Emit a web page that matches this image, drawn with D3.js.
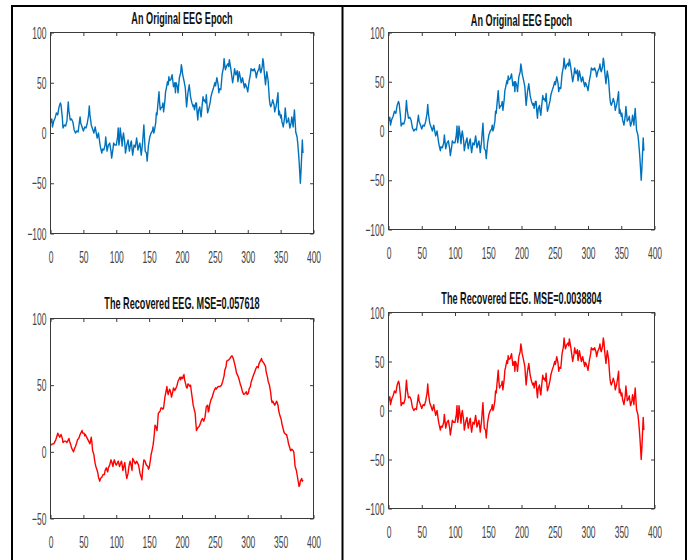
<!DOCTYPE html>
<html>
<head>
<meta charset="utf-8">
<script src="https://cdn.jsdelivr.net/npm/d3@7"></script>
<style>
  html, body { margin: 0; padding: 0; background: #fff; }
  svg { display: block; }
  text { font-family: "Liberation Sans", Arial, sans-serif; }
</style>
</head>
<body>
<svg id="fig" width="691" height="560"></svg>
<script>
// ---- data: [sample index, amplitude] ----
const originalEEG = [
  [1,10],[2,14],[3,6],[5,12],[7,15],[9,20],[11,18],[13,26],[15,30],[16,28],[18,15],[19,5],
  [21,8],[23,7],[25,12],[27,31],[28,22],[30,13],[32,14],[34,11],[36,3],[38,0],[40,2],[42,1],
  [45,16],[46,10],[48,6],[50,2],[52,6],[54,5],[56,10],[58,18],[59,27],[60,18],[62,8],[64,4],
  [66,0],[68,6],[69,2],[71,-5],[73,0],[75,-10],[76,-14],[78,-20],[79,-16],[81,-17],[83,-12],
  [84,-4],[86,-18],[88,-12],[90,-10],[92,-18],[93,-25],[95,-16],[96,-10],[98,-12],[100,-12],
  [102,-4],[103,5],[104,-12],[105,-8],[106,5],[108,-6],[109,-13],[110,-4],[111,0],[113,-10],
  [114,-20],[116,-12],[118,-7],[119,-13],[120,-18],[122,-10],[123,-8],[124,-16],[125,-22],
  [127,-12],[129,-14],[131,-5],[132,-10],[133,-17],[135,-12],[136,-10],[137,-16],[138,-22],
  [140,-10],[142,8],[143,-5],[144,-18],[146,-20],[147,-28],[149,-12],[151,-4],[152,-2],[153,0],
  [155,2],[156,6],[157,0],[158,2],[160,10],[161,20],[162,18],[163,26],[165,41],[166,30],[167,23],
  [168,25],[170,26],[171,30],[172,21],[174,32],[175,41],[176,44],[178,51],[179,48],[180,56],
  [181,52],[183,53],[185,58],[186,52],[187,46],[189,50],[190,40],[191,50],[193,46],[194,40],
  [195,48],[196,55],[198,60],[199,68],[200,64],[201,58],[203,52],[205,45],[206,35],[207,26],
  [209,40],[211,48],[212,42],[213,36],[215,30],[217,26],[218,28],[219,23],[221,30],[222,30],
  [223,20],[224,13],[225,22],[227,26],[228,20],[229,16],[231,30],[232,36],[233,32],[234,33],
  [236,30],[237,38],[238,28],[239,20],[241,25],[243,31],[244,36],[246,41],[248,45],[250,50],
  [251,47],[253,55],[255,48],[256,40],[257,44],[259,43],[260,50],[261,58],[263,65],[264,74],
  [265,68],[266,63],[268,67],[270,69],[271,66],[272,73],[274,65],[275,60],[276,55],[277,50],
  [279,58],[280,64],[281,60],[282,58],[284,62],[285,51],[286,55],[287,61],[289,54],[290,50],
  [291,52],[292,55],[294,48],[295,45],[296,49],[297,48],[299,44],[300,41],[301,46],[302,51],
  [304,58],[305,64],[307,62],[308,63],[309,62],[310,64],[312,60],[313,55],[314,58],[315,61],
  [317,64],[318,68],[319,62],[320,60],[322,66],[323,74],[324,70],[325,61],[327,48],[328,55],
  [329,61],[331,52],[332,42],[333,33],[334,28],[335,26],[337,30],[338,33],[340,28],[341,21],
  [342,24],[343,26],[345,35],[346,40],[347,18],[348,22],[350,15],[351,18],[352,11],[353,9],
  [354,6],[356,15],[357,25],[358,18],[359,10],[361,12],[362,15],[363,10],[364,5],[366,10],
  [367,16],[368,12],[369,6],[370,15],[371,23],[372,12],[373,1],[375,-4],[376,-10],[377,-18],
  [378,-27],[379,-38],[380,-50],[381,-38],[382,-23],[383,-7],[384,-20]
];

// Recovery at MSE=0.057618 (smoothed reconstruction)
const recoveredCoarse = [
  [1,5],[3,6],[5,6],[8,9],[10,12],[11,14],[13,12],[14,11],[16,13],[18,10],[19,7],[21,8],
  [23,8],[25,7],[27,9],[28,10],[29,8],[31,5],[32,3],[34,1],[35,0],[37,3],[38,4],[40,7],
  [41,9],[43,10],[45,13],[47,15],[48,16],[49,14],[51,14],[52,12],[53,13],[55,11],[57,9],
  [58,8],[60,6],[62,11],[63,7],[64,1],[66,-2],[67,-6],[68,-9],[69,-11],[71,-14],[72,-16],
  [73,-19],[75,-22],[76,-20],[78,-19],[80,-17],[82,-17],[83,-14],[85,-12],[86,-14],[87,-15],
  [88,-12],[90,-10],[91,-8],[92,-6],[94,-9],[95,-11],[96,-8],[97,-6],[99,-9],[100,-10],
  [102,-8],[103,-7],[104,-9],[105,-11],[107,-8],[108,-7],[109,-10],[110,-14],[112,-10],
  [113,-8],[114,-13],[115,-17],[116,-20],[118,-16],[119,-12],[120,-9],[121,-7],[123,-11],
  [124,-14],[125,-5],[127,-7],[128,-8],[129,-9],[130,-8],[131,-7],[133,-9],[134,-10],
  [135,-13],[136,-16],[138,-19],[139,-21],[140,-14],[142,-6],[144,-7],[145,-9],[146,-10],
  [148,-11],[149,-13],[150,-12],[152,-6],[153,-2],[154,0],[156,5],[157,9],[158,14],[159,20],
  [161,18],[162,16],[163,22],[164,29],[166,30],[167,31],[168,33],[169,33],[171,32],[172,33],
  [173,37],[174,41],[176,46],[177,49],[178,45],[179,43],[181,47],[182,46],[183,44],[184,41],
  [186,45],[187,48],[188,47],[189,46],[191,48],[192,49],[193,51],[194,53],[196,55],[197,56],
  [198,54],[199,56],[201,55],[202,57],[203,58],[204,54],[206,50],[207,48],[208,48],[209,51],
  [211,50],[212,49],[213,50],[214,46],[216,39],[217,35],[219,31],[220,29],[221,22],[222,16],
  [224,18],[226,19],[227,20],[229,23],[230,24],[231,25],[233,23],[235,26],[236,30],[237,34],
  [239,35],[240,30],[241,31],[242,35],[244,39],[246,41],[247,43],[249,46],[251,48],[252,47],
  [255,49],[258,49],[260,50],[262,53],[264,57],[265,61],[267,64],[268,68],[271,69],[273,70],
  [274,71],[276,72],[278,70],[279,68],[281,64],[283,59],[285,57],[287,54],[289,50],[290,49],
  [292,45],[294,43],[296,44],[298,45],[299,43],[301,44],[302,47],[304,49],[305,52],[307,55],
  [309,58],[310,59],[312,62],[314,64],[316,63],[317,66],[319,68],[321,70],[322,68],[324,67],
  [326,65],[327,64],[328,60],[330,56],[331,53],[333,50],[335,44],[336,39],[337,37],[338,38],
  [340,36],[341,35],[342,36],[344,38],[346,35],[347,31],[349,27],[351,24],[352,21],[353,19],
  [355,15],[356,14],[358,13],[359,13],[361,9],[362,6],[364,3],[365,1],[366,1],[367,2],
  [369,1],[370,0],[371,-5],[372,-11],[374,-14],[375,-17],[376,-20],[378,-26],[379,-25],
  [380,-22],[382,-20],[383,-22],[384,-21]
];

// Recovery at MSE=0.0038804: coincides with the original at plot resolution
const recoveredFine = originalEEG;

const xTicks = [0, 50, 100, 150, 200, 250, 300, 350, 400];
const yTicksFull = [-100, -50, 0, 50, 100];
const yTicksCoarse = [-50, 0, 50, 100];

const panels = [
  { title: "An Original EEG Epoch", data: originalEEG, color: "#0072BD",
    box: { left: 50.5, right: 313.5, top: 32.5, bottom: 233.5 }, titleY: 18.5,
    yDomain: [-100, 100], yTicks: yTicksFull },
  { title: "An Original EEG Epoch", data: originalEEG, color: "#0072BD",
    box: { left: 388.5, right: 654.5, top: 32.5, bottom: 229.5 }, titleY: 20,
    yDomain: [-100, 100], yTicks: yTicksFull },
  { title: "The Recovered EEG. MSE=0.057618", data: recoveredCoarse, color: "#FF0000",
    box: { left: 50.5, right: 313.5, top: 318.5, bottom: 518.5 }, titleY: 303.5,
    yDomain: [-50, 100], yTicks: yTicksCoarse },
  { title: "The Recovered EEG. MSE=0.0038804", data: recoveredFine, color: "#FF0000",
    box: { left: 388.5, right: 654.5, top: 312.5, bottom: 508.5 }, titleY: 298.5,
    yDomain: [-100, 100], yTicks: yTicksFull }
];

const svg = d3.select("#fig");
const TICK = 3.5;
const LABEL_SX = 0.5;    // narrow tick numerals
const TITLE_SX = 0.57;   // narrow bold titles
const axisColor = "#3a3a3a";

function styleAxis(g) {
  g.select(".domain").remove();
  g.selectAll("line").attr("stroke", axisColor);
}

panels.forEach(p => {
  const b = p.box;
  const x = d3.scaleLinear().domain([0, 400]).range([b.left, b.right]);
  const y = d3.scaleLinear().domain(p.yDomain).range([b.bottom, b.top]);
  const g = svg.append("g");

  // data line
  const line = d3.line().x(d => x(d[0])).y(d => y(d[1]));
  g.append("path")
    .datum(p.data)
    .attr("d", line)
    .attr("fill", "none")
    .attr("stroke", p.color)
    .attr("stroke-width", 1.4)
    .attr("stroke-linejoin", "round");

  // bottom axis with labels
  const gx = g.append("g").attr("transform", `translate(0,${b.bottom})`)
    .call(d3.axisBottom(x).tickValues(xTicks).tickSizeInner(-TICK).tickSizeOuter(0).tickFormat(d3.format("d")));
  styleAxis(gx);
  gx.selectAll("text")
    .attr("x", null).attr("y", null).attr("dy", null)
    .attr("dominant-baseline", "central")
    .attr("text-anchor", "middle")
    .attr("transform", `translate(0,24) scale(${LABEL_SX},1)`)
    .attr("fill", "#444")
    .attr("font-size", 17);

  // left axis with labels
  const gy = g.append("g").attr("transform", `translate(${b.left},0)`)
    .call(d3.axisLeft(y).tickValues(p.yTicks).tickSizeInner(-TICK).tickSizeOuter(0).tickFormat(d3.format("d")));
  styleAxis(gy);
  gy.selectAll("text")
    .attr("x", null).attr("y", null).attr("dy", null)
    .attr("dominant-baseline", "central")
    .attr("text-anchor", "end")
    .attr("transform", `translate(-4,0) scale(${LABEL_SX},1)`)
    .attr("fill", "#444")
    .attr("font-size", 17);

  // mirrored ticks on top and right edges
  const gt = g.append("g").attr("transform", `translate(0,${b.top})`)
    .call(d3.axisTop(x).tickValues(xTicks).tickSizeInner(-TICK).tickSizeOuter(0).tickFormat(""));
  styleAxis(gt);
  const gr = g.append("g").attr("transform", `translate(${b.right},0)`)
    .call(d3.axisRight(y).tickValues(p.yTicks).tickSizeInner(-TICK).tickSizeOuter(0).tickFormat(""));
  styleAxis(gr);

  // axes box
  g.append("rect")
    .attr("x", b.left).attr("y", b.top)
    .attr("width", b.right - b.left).attr("height", b.bottom - b.top)
    .attr("fill", "none").attr("stroke", axisColor).attr("stroke-width", 1);

  // title
  g.append("text")
    .attr("transform", `translate(${(b.left + b.right) / 2},${p.titleY}) scale(${TITLE_SX},1)`)
    .attr("text-anchor", "middle")
    .attr("dominant-baseline", "central")
    .attr("font-weight", "bold")
    .attr("font-size", 16)
    .attr("fill", "#111")
    .text(p.title);
});

// black frame lines around the two columns
const frame = svg.append("g").attr("stroke", "#000").attr("stroke-width", 2);
frame.append("line").attr("x1", 11).attr("x2", 687).attr("y1", 6).attr("y2", 6);
frame.append("line").attr("x1", 12).attr("x2", 12).attr("y1", 5).attr("y2", 560);
frame.append("line").attr("x1", 342.5).attr("x2", 342.5).attr("y1", 5).attr("y2", 560);
frame.append("line").attr("x1", 686).attr("x2", 686).attr("y1", 5).attr("y2", 560);
</script>
</body>
</html>
